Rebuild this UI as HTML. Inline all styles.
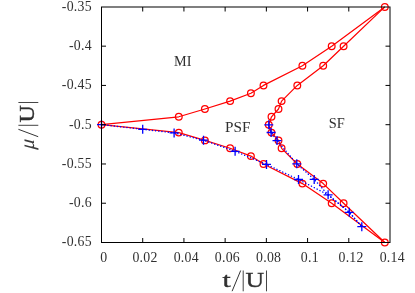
<!DOCTYPE html>
<html><head><meta charset="utf-8"><title>phase diagram</title>
<style>
html,body{margin:0;padding:0;background:#fff;}
body{width:415px;height:293px;overflow:hidden;font-family:"Liberation Serif",serif;}
svg{display:block;position:absolute;left:0;top:0;}
text{font-family:"Liberation Serif",serif;}
.tx{filter:grayscale(1);}
</style></head><body>
<svg width="415" height="293" viewBox="0 0 415 293">
<rect x="0" y="0" width="415" height="293" fill="#fff"/>

<g class="tx" font-size="13.8" fill="#303030" letter-spacing="0.25">
<text x="91.8" y="10.80" text-anchor="end">-0.35</text>
<text x="91.8" y="50.07" text-anchor="end">-0.4</text>
<text x="91.8" y="89.33" text-anchor="end">-0.45</text>
<text x="91.8" y="128.60" text-anchor="end">-0.5</text>
<text x="91.8" y="167.87" text-anchor="end">-0.55</text>
<text x="91.8" y="207.13" text-anchor="end">-0.6</text>
<text x="91.8" y="246.40" text-anchor="end">-0.65</text>
<text x="103.80" y="261.6" text-anchor="middle">0</text>
<text x="145.01" y="261.6" text-anchor="middle">0.02</text>
<text x="186.23" y="261.6" text-anchor="middle">0.04</text>
<text x="227.44" y="261.6" text-anchor="middle">0.06</text>
<text x="268.66" y="261.6" text-anchor="middle">0.08</text>
<text x="309.87" y="261.6" text-anchor="middle">0.1</text>
<text x="351.09" y="261.6" text-anchor="middle">0.12</text>
<text x="392.30" y="261.6" text-anchor="middle">0.14</text>
</g>
<g class="tx" font-size="14.3" fill="#303030">
<text x="174.0" y="66.1" textLength="17.4" lengthAdjust="spacingAndGlyphs">MI</text>
<text x="225.0" y="131.9" textLength="25.4" lengthAdjust="spacingAndGlyphs">PSF</text>
<text x="328.8" y="128.2" textLength="16.0" lengthAdjust="spacingAndGlyphs">SF</text>
</g>
<g class="tx" fill="#303030" transform="translate(221.7,286.4)">
<text x="0.7" y="0.3" font-size="22" stroke="#303030" stroke-width="0.4" textLength="8.2" lengthAdjust="spacingAndGlyphs">t</text>
<path d="M10.4 4.8L19.0 -15.9" stroke="#333" stroke-width="1" fill="none"/>
<path d="M21.5 4.9V-15.9M44.8 4.9V-15.9" stroke="#444" stroke-width="1" fill="none"/>
<text x="23.7" y="0.3" font-size="22" stroke="#303030" stroke-width="0.4" textLength="18.6" lengthAdjust="spacingAndGlyphs">U</text>
</g>
<g class="tx" fill="#303030" transform="translate(33.4,149.9) rotate(-90)">
<text x="0.5" y="0.9" font-size="20.7" fill="#3a3a3a" font-style="italic" transform="skewX(-5)" textLength="10.0" lengthAdjust="spacingAndGlyphs">μ</text>
<path d="M13.2 4.8L20.6 -15.0" stroke="#333" stroke-width="1" fill="none"/>
<path d="M24.6 4.9V-15.0M47.4 4.9V-15.0" stroke="#444" stroke-width="1" fill="none"/>
<text x="27.5" y="0.3" font-size="22" stroke="#303030" stroke-width="0.4" textLength="17.2" lengthAdjust="spacingAndGlyphs">U</text>
</g>
<g stroke="#ff0000" stroke-width="1.2" fill="none" stroke-linejoin="round">
<polyline points="101.5,124.7 178.8,116.8 204.9,109.0 230.1,101.1 250.9,93.3 263.5,85.4 302.4,65.8 331.7,46.2 384.8,6.9"/>
<polyline points="384.8,6.9 343.6,46.2 323.2,65.8 297.3,85.4 281.6,101.1 278.5,109.0 271.5,116.8 268.8,124.7 271.5,132.6 278.5,140.4 281.6,148.3 297.3,164.0 323.2,183.6 343.6,203.2 384.8,242.5"/>
<polyline points="101.5,124.7 178.8,132.6 204.9,140.4 230.1,148.3 250.9,156.1 263.5,164.0 302.4,183.6 331.7,203.2 384.8,242.5"/>
</g>
<g stroke="#ff0000" stroke-width="1.25" fill="none">
<circle cx="101.5" cy="124.7" r="3.35"/>
<circle cx="178.8" cy="116.8" r="3.35"/>
<circle cx="204.9" cy="109.0" r="3.35"/>
<circle cx="230.1" cy="101.1" r="3.35"/>
<circle cx="250.9" cy="93.3" r="3.35"/>
<circle cx="263.5" cy="85.4" r="3.35"/>
<circle cx="302.4" cy="65.8" r="3.35"/>
<circle cx="331.7" cy="46.2" r="3.35"/>
<circle cx="384.8" cy="6.9" r="3.35"/>
<circle cx="343.6" cy="46.2" r="3.35"/>
<circle cx="323.2" cy="65.8" r="3.35"/>
<circle cx="297.3" cy="85.4" r="3.35"/>
<circle cx="281.6" cy="101.1" r="3.35"/>
<circle cx="278.5" cy="109.0" r="3.35"/>
<circle cx="271.5" cy="116.8" r="3.35"/>
<circle cx="268.8" cy="124.7" r="3.35"/>
<circle cx="271.5" cy="132.6" r="3.35"/>
<circle cx="278.5" cy="140.4" r="3.35"/>
<circle cx="281.6" cy="148.3" r="3.35"/>
<circle cx="297.3" cy="164.0" r="3.35"/>
<circle cx="323.2" cy="183.6" r="3.35"/>
<circle cx="343.6" cy="203.2" r="3.35"/>
<circle cx="384.8" cy="242.5" r="3.35"/>
<circle cx="178.8" cy="132.6" r="3.35"/>
<circle cx="204.9" cy="140.4" r="3.35"/>
<circle cx="230.1" cy="148.3" r="3.35"/>
<circle cx="250.9" cy="156.1" r="3.35"/>
<circle cx="263.5" cy="164.0" r="3.35"/>
<circle cx="302.4" cy="183.6" r="3.35"/>
<circle cx="331.7" cy="203.2" r="3.35"/>
</g>
<g stroke="#0000ff" stroke-width="1.45" fill="none" stroke-linecap="round" stroke-dasharray="0.1 3.1">
<polyline points="101.5,124.6 142.7,129.3 174.1,132.9 203.5,140.2 235.1,151.3 266.5,164.4 298.5,179.5 328.1,194.8 349.3,212.3 361.8,226.7"/>
<polyline points="268.8,124.8 271.1,132.5 277.0,140.6 296.8,163.8 314.2,179.4 328.1,194.8 349.3,212.3 361.8,226.7"/>
</g>
<g stroke="#0000ff" stroke-width="1.3" fill="none">
<path d="M97.0 124.6h9.0M101.5 120.1v9.0"/>
<path d="M138.2 129.3h9.0M142.7 124.8v9.0"/>
<path d="M169.6 132.9h9.0M174.1 128.4v9.0"/>
<path d="M199.0 140.2h9.0M203.5 135.7v9.0"/>
<path d="M230.6 151.3h9.0M235.1 146.8v9.0"/>
<path d="M262.0 164.4h9.0M266.5 159.9v9.0"/>
<path d="M294.0 179.5h9.0M298.5 175.0v9.0"/>
<path d="M323.6 194.8h9.0M328.1 190.3v9.0"/>
<path d="M344.8 212.3h9.0M349.3 207.8v9.0"/>
<path d="M357.3 226.7h9.0M361.8 222.2v9.0"/>
<path d="M264.3 124.8h9.0M268.8 120.3v9.0"/>
<path d="M266.6 132.5h9.0M271.1 128.0v9.0"/>
<path d="M272.5 140.6h9.0M277.0 136.1v9.0"/>
<path d="M292.3 163.8h9.0M296.8 159.3v9.0"/>
<path d="M309.7 179.4h9.0M314.2 174.9v9.0"/>
</g>
<g stroke="#000" stroke-width="1" fill="none">
<rect x="101.50" y="7.00" width="288.50" height="235.50"/>
<path d="M142.71 242.50v-4.5M142.71 7.00v4.5"/>
<path d="M183.93 242.50v-4.5M183.93 7.00v4.5"/>
<path d="M225.14 242.50v-4.5M225.14 7.00v4.5"/>
<path d="M266.36 242.50v-4.5M266.36 7.00v4.5"/>
<path d="M307.57 242.50v-4.5M307.57 7.00v4.5"/>
<path d="M348.79 242.50v-4.5M348.79 7.00v4.5"/>
<path d="M101.50 46.17h4.5M390.00 46.17h-4.5"/>
<path d="M101.50 85.43h4.5M390.00 85.43h-4.5"/>
<path d="M101.50 124.70h4.5M390.00 124.70h-4.5"/>
<path d="M101.50 163.97h4.5M390.00 163.97h-4.5"/>
<path d="M101.50 203.23h4.5M390.00 203.23h-4.5"/>
</g>
</svg></body></html>
